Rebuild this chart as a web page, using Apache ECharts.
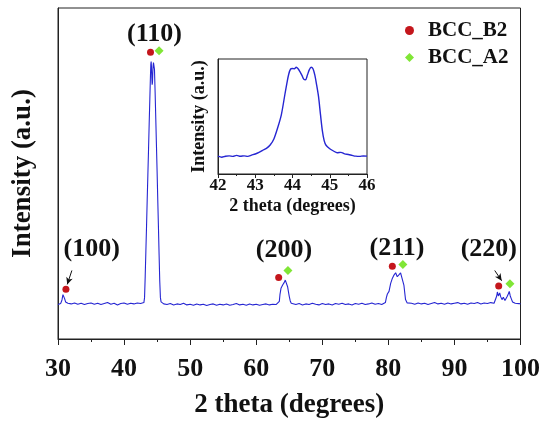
<!DOCTYPE html>
<html>
<head>
<meta charset="utf-8">
<script src="https://cdn.jsdelivr.net/npm/echarts@6/dist/echarts.min.js"></script>
<style>
html,body{margin:0;padding:0;background:#fff;}
#chart{width:543px;height:424px;}
</style>
</head>
<body>
<div id="chart"></div>
<script>
// ---------- data ----------
const mainTheta = [
30.0,30.2,30.4,30.6,30.75,30.85,31.0,31.15,31.3,31.5,31.8,
32.0,32.5,33.0,33.5,34.0,34.5,35.0,35.5,36.0,36.5,37.0,37.5,38.0,38.5,39.0,39.5,40.0,40.5,41.0,41.5,42.0,42.5,43.0,
43.1,43.2,43.3,43.4,43.5,43.6,43.7,43.8,43.9,44.0,44.05,44.1,44.15,44.2,44.25,44.3,44.35,44.4,44.45,44.5,44.6,44.7,44.8,44.9,45.0,45.1,45.2,45.3,45.4,45.5,45.6,45.8,
46.0,46.5,47.0,47.5,48.0,48.5,49.0,49.5,50.0,50.5,51.0,51.5,52.0,52.5,53.0,53.5,54.0,54.5,55.0,55.5,56.0,56.5,57.0,57.5,58.0,58.5,59.0,59.5,60.0,60.5,61.0,61.5,62.0,62.5,63.0,63.3,
63.5,63.6,63.75,64.0,64.25,64.4,64.5,64.6,64.75,64.9,65.0,65.15,65.3,65.5,
66.0,66.5,67.0,67.5,68.0,68.5,69.0,69.5,70.0,70.5,71.0,71.5,72.0,72.5,73.0,73.5,74.0,74.5,75.0,75.5,76.0,76.5,77.0,77.5,78.0,78.5,79.0,79.3,
79.55,79.7,79.85,80.1,80.35,80.6,80.85,81.1,81.35,81.6,81.85,82.1,82.35,82.6,82.85,83.1,
83.5,84.0,84.5,85.0,85.5,86.0,86.5,87.0,87.5,88.0,88.5,89.0,89.5,90.0,90.5,91.0,91.5,92.0,92.5,93.0,93.5,94.0,94.5,95.0,95.5,96.0,
96.25,96.4,96.5,96.65,96.85,97.0,97.2,97.4,97.65,97.8,98.0,98.15,98.3,98.45,98.6,98.8,99.0,99.2,99.5,99.75,100.0
];
const mainIntensity = [
104,108,107,118,134,136,122,112,114,108,110,
106,109,105,108,104,107,109,105,108,104,107,110,105,108,103,107,109,105,108,106,109,107,110,
125,190,265,340,420,495,570,650,725,800,830,838,822,790,768,775,805,826,835,832,815,745,665,585,505,420,340,255,175,125,112,108,
106,104,107,103,106,104,108,103,105,102,106,103,105,101,104,106,102,105,103,106,102,104,107,103,105,102,106,103,105,102,104,106,103,105,104,107,
114,135,153,163,171,178,181,172,158,140,129,115,108,105,
104,107,103,106,104,108,105,103,107,104,106,103,107,105,108,104,106,103,107,105,108,104,106,109,105,107,104,106,
110,125,136,144,168,183,193,200,188,193,200,197,163,119,109,107,
108,105,109,106,108,104,107,110,106,108,105,109,106,108,110,106,108,105,109,107,110,106,109,107,110,108,
112,130,142,130,139,128,119,126,116,120,129,136,144,130,122,112,110,108,110,107,106
];

const insetTheta = [42.0,42.1,42.2,42.3,42.4,42.5,42.6,42.7,42.8,42.9,43.0,43.1,43.2,43.3,43.4,43.5,43.6,43.7,43.8,43.85,43.9,43.95,44.0,44.05,44.1,44.15,44.2,44.25,44.3,44.35,44.4,44.45,44.5,44.55,44.6,44.65,44.7,44.75,44.8,44.85,44.9,45.0,45.1,45.2,45.3,45.4,45.5,45.6,45.7,45.8,45.9,46.0];
const insetIntensity = [15.5,14.6,15.4,15.8,15.3,16.2,15.4,15.8,15.3,16.4,17.4,18.8,20.6,22.3,25.2,30.5,40,51.5,70,79,87,91.3,91.8,91.5,92.8,91.5,89,86,82.5,82,86,90.5,92.8,91.5,86,77,67,52,38,29,25,22,20,18.5,18.8,17.5,17,16.2,15.5,15.3,15.7,15.5];

const b2Theta = [31.2, 44.0, 63.4, 80.6, 96.7];
const b2Intensity = [150, 866, 186, 220, 160];
const a2Theta = [45.3, 64.8, 82.2, 98.4];
const a2Intensity = [871, 207, 225, 167];

const peakNames = ['(100)', '(110)', '(200)', '(211)', '(220)'];
const peakLabelTheta = [35.1, 44.6, 64.2, 81.3, 95.2];
const peakLabelIntensity = [270, 921, 267, 273, 270];

// arrows: [fromTheta, fromIntensity, toTheta, toIntensity]
const arrows = [[32.1, 207, 31.4, 165], [96.1, 207, 97.15, 176]];

const xTicks = [30, 40, 50, 60, 70, 80, 90, 100];
const insetTicks = [42, 43, 44, 45, 46];

// ---------- chart ----------
const FONT = "'Liberation Serif','Times New Roman',serif";
const TXT = '#111';
const chart = echarts.init(document.getElementById('chart'), null, {renderer: 'canvas'});

const zip = (a, b) => a.map((v, i) => [v, b[i]]);

chart.setOption({
  animation: false,
  backgroundColor: '#fff',
  legend: {
    orient: 'vertical',
    left: 400, top: 15,
    itemWidth: 9, itemHeight: 9, itemGap: 6,
    data: [{name: 'BCC_B2', icon: 'circle'}, {name: 'BCC_A2', icon: 'diamond'}],
    textStyle: {fontFamily: FONT, fontWeight: 'bold', fontSize: 21, color: TXT, lineHeight: 21, padding: [0, 0, 0, 9]}
  },
  grid: [
    {left: 58, top: 8, width: 464, height: 341, show: true, borderColor: '#222', borderWidth: 1},
    {left: 218, top: 59, width: 149, height: 115, show: true, borderColor: '#222', borderWidth: 1, z: 5}
  ],
  xAxis: [
    {
      gridIndex: 0, type: 'value', min: xTicks[0], max: xTicks[xTicks.length - 1], interval: 10,
      name: '2 theta (degrees)', nameLocation: 'middle', nameGap: 53,
      nameTextStyle: {fontFamily: FONT, fontWeight: 'bold', fontSize: 27, color: TXT},
      axisLine: {onZero: false, lineStyle: {color: '#222', width: 1}},
      axisTick: {length: 6, lineStyle: {color: '#222'}},
      minorTick: {show: true, splitNumber: 2, length: 3, lineStyle: {color: '#222'}},
      axisLabel: {margin: 17, fontFamily: FONT, fontWeight: 'bold', fontSize: 26, color: TXT},
      splitLine: {show: false}
    },
    {
      gridIndex: 1, type: 'value', min: insetTicks[0], max: insetTicks[insetTicks.length - 1], interval: 1,
      name: '2 theta (degrees)', nameLocation: 'middle', nameGap: 23,
      nameTextStyle: {fontFamily: FONT, fontWeight: 'bold', fontSize: 18, color: TXT},
      axisLine: {onZero: false, lineStyle: {color: '#222', width: 1}},
      axisTick: {length: 4, lineStyle: {color: '#222'}},
      minorTick: {show: true, splitNumber: 2, length: 2, lineStyle: {color: '#222'}},
      axisLabel: {margin: 3, fontFamily: FONT, fontWeight: 'bold', fontSize: 17, color: TXT},
      splitLine: {show: false}
    }
  ],
  yAxis: [
    {
      gridIndex: 0, type: 'value', min: 0, max: 1000,
      name: 'Intensity (a.u.)', nameLocation: 'middle', nameGap: 21,
      nameTextStyle: {fontFamily: FONT, fontWeight: 'bold', fontSize: 27, color: TXT},
      axisLine: {show: true, onZero: false, lineStyle: {color: '#222', width: 1}},
      axisTick: {show: false}, axisLabel: {show: false}, splitLine: {show: false}
    },
    {
      gridIndex: 1, type: 'value', min: 0, max: 100,
      name: 'Intensity (a.u.)', nameLocation: 'middle', nameGap: 10,
      nameTextStyle: {fontFamily: FONT, fontWeight: 'bold', fontSize: 18, color: TXT},
      axisLine: {show: true, onZero: false, lineStyle: {color: '#222', width: 1}},
      axisTick: {show: false}, axisLabel: {show: false}, splitLine: {show: false}
    }
  ],
  series: [
    {
      name: 'XRD', type: 'line', xAxisIndex: 0, yAxisIndex: 0,
      data: zip(mainTheta, mainIntensity), showSymbol: false, symbol: 'none',
      lineStyle: {color: '#2626d2', width: 1.1}, z: 2,
      markLine: {
        silent: true, symbol: ['none', 'arrow'], symbolSize: [5, 7],
        lineStyle: {color: '#111', width: 1, type: 'solid'}, label: {show: false},
        data: arrows.map(a => [{coord: [a[0], a[1]]}, {coord: [a[2], a[3]]}])
      }
    },
    {
      name: 'inset', type: 'line', xAxisIndex: 1, yAxisIndex: 1,
      data: zip(insetTheta, insetIntensity), showSymbol: false, symbol: 'none', smooth: 0.3,
      lineStyle: {color: '#2626d2', width: 1.4}, z: 6
    },
    {
      name: 'BCC_B2', type: 'scatter', xAxisIndex: 0, yAxisIndex: 0,
      data: zip(b2Theta, b2Intensity), symbol: 'circle', symbolSize: 7,
      itemStyle: {color: '#c4161c', opacity: 1}, z: 4
    },
    {
      name: 'BCC_A2', type: 'scatter', xAxisIndex: 0, yAxisIndex: 0,
      data: zip(a2Theta, a2Intensity), symbol: 'diamond', symbolSize: 9,
      itemStyle: {color: '#80e636', opacity: 1}, z: 4
    },
    {
      name: 'peaks', type: 'scatter', xAxisIndex: 0, yAxisIndex: 0,
      data: peakNames.map((n, i) => ({name: n, value: [peakLabelTheta[i], peakLabelIntensity[i]]})),
      symbolSize: 0, silent: true, z: 4, itemStyle: {opacity: 1},
      label: {
        show: true, position: 'inside', formatter: p => p.name,
        fontFamily: FONT, fontWeight: 'bold', fontSize: 26, color: TXT, opacity: 1
      }
    }
  ]
});
</script>
</body>
</html>
